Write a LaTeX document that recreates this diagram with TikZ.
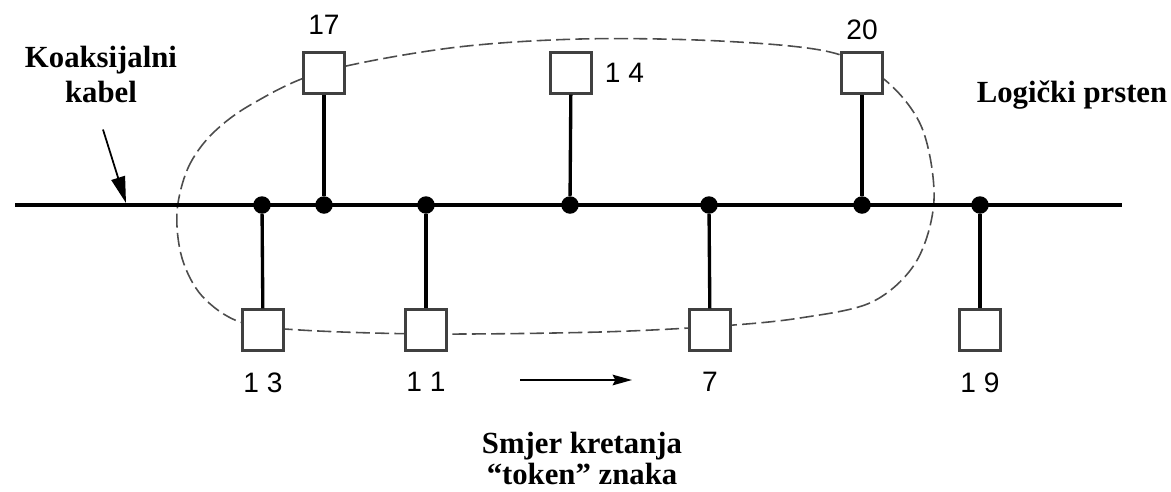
\documentclass[tikz,border=0pt]{standalone}
\usepackage{fontspec}
\setmainfont{Liberation Serif}
\setsansfont{Liberation Sans}
\usetikzlibrary{arrows.meta,positioning}

\begin{document}
\begin{tikzpicture}[
    x=0.02cm, y=-0.02cm,
    bus/.style={line width=2pt, black},
    stub/.style={line width=1.9pt, black},
    tap/.style={circle, fill=black, inner sep=0pt, minimum size=0.35cm},
    station/.style={draw=black!75, line width=1.2pt, fill=white, minimum size=0.82cm, inner sep=0pt},
    addr/.style={font=\fontsize{16}{19}\selectfont\sffamily, inner sep=2pt},
    caption/.style={font=\fontsize{17.5}{20}\selectfont\bfseries, align=center},
    ring/.style={dash pattern=on 8pt off 3pt, line width=0.9pt, black!70}
  ]
  \useasboundingbox (0,0) rectangle (1171,491);

  % Logical ring (drawn first, stations cover it)
  \draw[ring] plot[smooth cycle, tension=0.55] coordinates {
    (177,212) (188,168) (212,134) (252,104) (322,72) (450,48) (580,39)
    (720,41) (830,52) (885,80) (922,128) (934,200) (916,262) (872,302)
    (800,318) (720,326) (600,332) (430,334) (300,330) (240,322) (202,296)
    (182,258)};

  % Coaxial cable
  \coordinate (busL) at (15,205);
  \coordinate (busR) at (1122,205);
  \draw[bus] (busL) -- (busR);

  % Taps on the cable
  \node[tap] (t13) at (262,205) {};
  \node[tap] (t17) at (324,205) {};
  \node[tap] (t11) at (426,205) {};
  \node[tap] (t14) at (570,205) {};
  \node[tap] (t7)  at (709,205) {};
  \node[tap] (t20) at (862,205) {};
  \node[tap] (t19) at (980,205) {};

  % Stations above the cable
  \node[station] (s17) at (324,73) {};
  \node[station] (s14) at (571,73) {};
  \node[station] (s20) at (862,73) {};
  % Stations below the cable
  \node[station] (s13) at (263,330) {};
  \node[station] (s11) at (426,330) {};
  \node[station] (s7)  at (710,330) {};
  \node[station] (s19) at (980,330) {};

  \foreach \n in {17,14,20,13,11,7,19}
    \draw[stub] (t\n) -- (s\n);

  % Station addresses
  \node[addr, above=0.26cm of s17] (a17) {17};
  \node[addr, right=0.17cm of s14] (a14) {1 4};
  \node[addr, above=0.16cm of s20] (a20) {20};
  \node[addr, below=0.34cm of s13] (a13) {1 3};
  \node[addr, below=0.34cm of s11] (a11) {1 1};
  \node[addr, below=0.34cm of s7]  (a7)  {7};
  \node[addr, below=0.34cm of s19] (a19) {1 9};

  % Labels (base anchor sits on the last line)
  \node[caption, font=\fontsize{17.5}{19.8}\selectfont\bfseries, anchor=base] (kabel) at (101,102) {Koaksijalni\\kabel};
  \coordinate (hit) at (126,203);
  \draw[line width=1pt, -{Triangle[length=15pt, width=8pt]}] (kabel.south) ++(2,21) -- (hit);

  \node[caption, anchor=base] (prsten) at (1072,102) {Logički prsten};

  \coordinate (dirA) at (520,380);
  \coordinate (dirB) at (632,380);
  \draw[line width=1pt, -{Stealth[length=11pt, width=6pt, inset=1.5pt]}] (dirA) -- (dirB);
  \node[caption, font=\fontsize{17.5}{17.6}\selectfont\bfseries, anchor=base, inner sep=1pt] (smjer) at (582,484) {Smjer kretanja\\“token” znaka};

\end{tikzpicture}
\end{document}
